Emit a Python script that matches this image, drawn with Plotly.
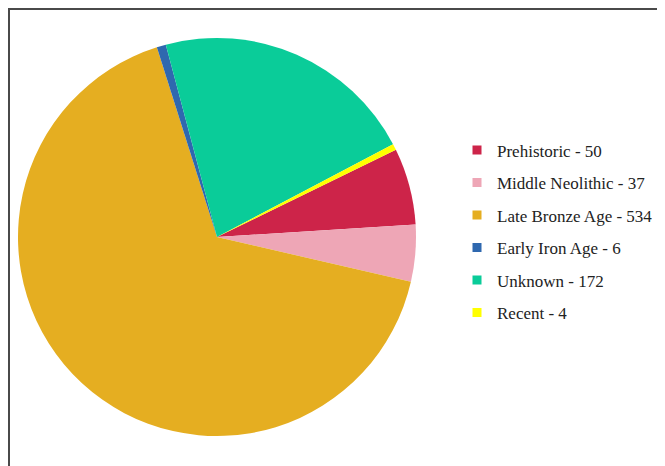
import plotly.graph_objects as go

labels = ["Prehistoric", "Middle Neolithic", "Late Bronze Age", "Early Iron Age", "Unknown", "Recent"]
values = [50, 37, 534, 6, 172, 4]
colors = ["#CD2449", "#EEA6B6", "#E5AE21", "#2F68AF", "#0ACC99", "#FFFF00"]

W, H = 665, 466
# the page adds an 8px body margin, so figure coords = page coords - 8
cx, cy, r = 209, 229, 199

fig = go.Figure()
fig.add_trace(go.Pie(
    labels=labels, values=values, sort=False, direction="clockwise", rotation=64,
    marker=dict(colors=colors, line=dict(width=0)),
    textinfo="none", showlegend=False, hoverinfo="label+value+percent",
    domain=dict(x=[(cx - r) / W, (cx + r) / W], y=[(H - cy - r) / H, (H - cy + r) / H]),
))

for lab, val, col in zip(labels, values, colors):
    fig.add_trace(go.Scatter(
        x=[None], y=[None], mode="markers", name=f"{lab} - {val}",
        legendgroup=lab, marker=dict(symbol="square", size=9, color=col),
        hoverinfo="skip",
    ))

fig.update_layout(
    width=W, height=H,
    margin=dict(l=0, r=0, t=0, b=0),
    paper_bgcolor="white", plot_bgcolor="white",
    xaxis=dict(visible=False), yaxis=dict(visible=False),
    font=dict(family="Liberation Serif", size=17, color="#222222"),
    legend=dict(x=449 / W, xanchor="left", y=1 - 223.4 / H, yanchor="middle",
                tracegroupgap=7.4, traceorder="grouped", itemwidth=30,
                bgcolor="rgba(0,0,0,0)"),
    shapes=[dict(type="rect", xref="paper", yref="paper",
                 x0=0.75 / W, x1=1.2, y0=-0.2, y1=1 - 0.75 / H,
                 line=dict(color="#4a4a4a", width=2.5), fillcolor="rgba(0,0,0,0)")],
)

fig.write_html("out.html")
